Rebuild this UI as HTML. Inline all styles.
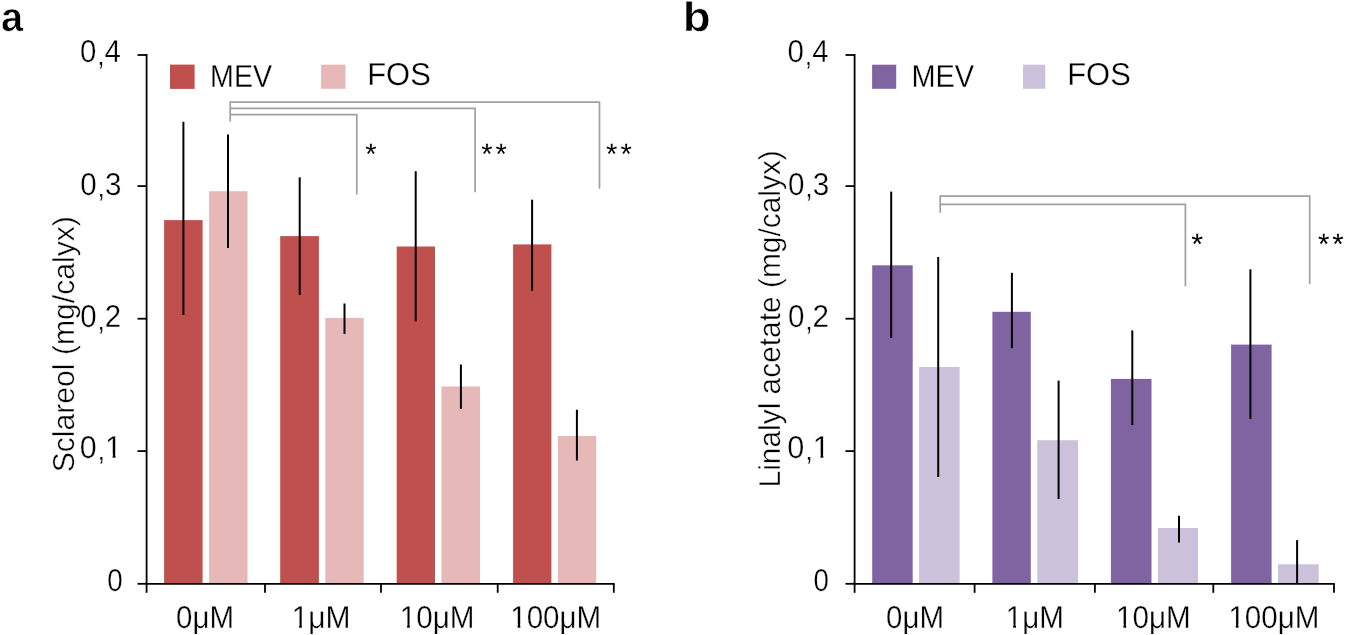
<!DOCTYPE html>
<html><head><meta charset="utf-8"><style>
html,body{margin:0;padding:0;background:#fff;}
body{width:1346px;height:635px;overflow:hidden;}
svg{display:block;will-change:transform;font-family:"Liberation Sans",sans-serif;font-kerning:none;text-rendering:geometricPrecision;}
text{font-family:"Liberation Sans",sans-serif;font-kerning:none;}
</style></head><body>
<svg width="1346" height="635" viewBox="0 0 1346 635">
<rect width="1346" height="635" fill="#fff"/>
<rect x="164.10" y="220.10" width="38.50" height="363.70" fill="#C0504D"/>
<rect x="209.10" y="191.20" width="38.40" height="392.60" fill="#E6B9B8"/>
<rect x="280.20" y="236.10" width="38.70" height="347.70" fill="#C0504D"/>
<rect x="325.30" y="317.90" width="38.40" height="265.90" fill="#E6B9B8"/>
<rect x="396.70" y="246.50" width="38.30" height="337.30" fill="#C0504D"/>
<rect x="441.40" y="386.50" width="38.60" height="197.30" fill="#E6B9B8"/>
<rect x="513.10" y="244.40" width="38.30" height="339.40" fill="#C0504D"/>
<rect x="557.90" y="436.00" width="38.30" height="147.80" fill="#E6B9B8"/>
<line x1="183.40" y1="121.80" x2="183.40" y2="315.00" stroke="#000" stroke-width="2"/>
<line x1="228.00" y1="134.40" x2="228.00" y2="248.00" stroke="#000" stroke-width="2"/>
<line x1="299.70" y1="177.30" x2="299.70" y2="295.00" stroke="#000" stroke-width="2"/>
<line x1="344.50" y1="303.50" x2="344.50" y2="334.00" stroke="#000" stroke-width="2"/>
<line x1="415.70" y1="171.20" x2="415.70" y2="321.30" stroke="#000" stroke-width="2"/>
<line x1="460.90" y1="364.50" x2="460.90" y2="408.80" stroke="#000" stroke-width="2"/>
<line x1="532.10" y1="199.70" x2="532.10" y2="290.80" stroke="#000" stroke-width="2"/>
<line x1="576.90" y1="409.70" x2="576.90" y2="460.50" stroke="#000" stroke-width="2"/>
<line x1="146.60" y1="54.10" x2="146.60" y2="584.70" stroke="#000" stroke-width="1.8"/>
<line x1="137.50" y1="55.00" x2="146.60" y2="55.00" stroke="#000" stroke-width="1.8"/>
<line x1="137.50" y1="186.10" x2="146.60" y2="186.10" stroke="#000" stroke-width="1.8"/>
<line x1="137.50" y1="318.70" x2="146.60" y2="318.70" stroke="#000" stroke-width="1.8"/>
<line x1="137.50" y1="451.10" x2="146.60" y2="451.10" stroke="#000" stroke-width="1.8"/>
<line x1="137.50" y1="583.80" x2="146.60" y2="583.80" stroke="#000" stroke-width="1.8"/>
<line x1="146.60" y1="583.80" x2="614.70" y2="583.80" stroke="#000" stroke-width="1.8"/>
<line x1="146.60" y1="583.80" x2="146.60" y2="592.80" stroke="#000" stroke-width="1.8"/>
<line x1="265.00" y1="583.80" x2="265.00" y2="592.80" stroke="#000" stroke-width="1.8"/>
<line x1="381.00" y1="583.80" x2="381.00" y2="592.80" stroke="#000" stroke-width="1.8"/>
<line x1="497.70" y1="583.80" x2="497.70" y2="592.80" stroke="#000" stroke-width="1.8"/>
<line x1="613.80" y1="583.80" x2="613.80" y2="592.80" stroke="#000" stroke-width="1.8"/>
<polyline points="230.2,121.5 230.2,102.1 599.5,102.1 599.5,188.8" fill="none" stroke="#A0A0A0" stroke-width="1.7"/>
<polyline points="230.2,108.3 475.1,108.3 475.1,192.2" fill="none" stroke="#A0A0A0" stroke-width="1.7"/>
<polyline points="230.2,114.7 356.8,114.7 356.8,194.6" fill="none" stroke="#A0A0A0" stroke-width="1.7"/>
<rect x="170.00" y="64.60" width="24.60" height="24.30" fill="#C0504D"/>
<rect x="321.10" y="64.70" width="24.40" height="24.10" fill="#E6B9B8"/>
<rect x="872.20" y="265.30" width="40.50" height="318.50" fill="#8064A2"/>
<rect x="919.10" y="367.00" width="40.50" height="216.80" fill="#CCC1DA"/>
<rect x="992.40" y="311.80" width="38.40" height="272.00" fill="#8064A2"/>
<rect x="1037.30" y="440.20" width="40.80" height="143.60" fill="#CCC1DA"/>
<rect x="1110.90" y="378.90" width="40.60" height="204.90" fill="#8064A2"/>
<rect x="1158.00" y="528.00" width="40.00" height="55.80" fill="#CCC1DA"/>
<rect x="1231.10" y="344.60" width="40.50" height="239.20" fill="#8064A2"/>
<rect x="1278.00" y="564.30" width="40.70" height="19.50" fill="#CCC1DA"/>
<line x1="891.20" y1="191.60" x2="891.20" y2="337.90" stroke="#000" stroke-width="2"/>
<line x1="938.20" y1="257.00" x2="938.20" y2="477.00" stroke="#000" stroke-width="2"/>
<line x1="1011.90" y1="272.80" x2="1011.90" y2="348.20" stroke="#000" stroke-width="2"/>
<line x1="1058.60" y1="380.60" x2="1058.60" y2="499.00" stroke="#000" stroke-width="2"/>
<line x1="1132.30" y1="330.40" x2="1132.30" y2="425.10" stroke="#000" stroke-width="2"/>
<line x1="1179.00" y1="515.80" x2="1179.00" y2="542.60" stroke="#000" stroke-width="2"/>
<line x1="1250.40" y1="269.30" x2="1250.40" y2="418.90" stroke="#000" stroke-width="2"/>
<line x1="1297.10" y1="540.10" x2="1297.10" y2="582.90" stroke="#000" stroke-width="2"/>
<line x1="854.60" y1="54.10" x2="854.60" y2="584.70" stroke="#000" stroke-width="1.8"/>
<line x1="845.50" y1="55.00" x2="854.60" y2="55.00" stroke="#000" stroke-width="1.8"/>
<line x1="845.50" y1="186.10" x2="854.60" y2="186.10" stroke="#000" stroke-width="1.8"/>
<line x1="845.50" y1="318.70" x2="854.60" y2="318.70" stroke="#000" stroke-width="1.8"/>
<line x1="845.50" y1="451.10" x2="854.60" y2="451.10" stroke="#000" stroke-width="1.8"/>
<line x1="845.50" y1="583.80" x2="854.60" y2="583.80" stroke="#000" stroke-width="1.8"/>
<line x1="854.60" y1="583.80" x2="1334.90" y2="583.80" stroke="#000" stroke-width="1.8"/>
<line x1="854.60" y1="583.80" x2="854.60" y2="592.80" stroke="#000" stroke-width="1.8"/>
<line x1="974.60" y1="583.80" x2="974.60" y2="592.80" stroke="#000" stroke-width="1.8"/>
<line x1="1094.90" y1="583.80" x2="1094.90" y2="592.80" stroke="#000" stroke-width="1.8"/>
<line x1="1213.30" y1="583.80" x2="1213.30" y2="592.80" stroke="#000" stroke-width="1.8"/>
<line x1="1334.00" y1="583.80" x2="1334.00" y2="592.80" stroke="#000" stroke-width="1.8"/>
<polyline points="940.2,212.7 940.2,196.2 1309.7,196.2 1309.7,284.0" fill="none" stroke="#A0A0A0" stroke-width="1.7"/>
<polyline points="940.2,204.3 1185.4,204.3 1185.4,286.3" fill="none" stroke="#A0A0A0" stroke-width="1.7"/>
<rect x="872.10" y="64.70" width="24.10" height="24.10" fill="#8064A2"/>
<rect x="1023.00" y="64.70" width="22.30" height="24.10" fill="#CCC1DA"/>
<g transform="translate(1.01,31.16) scale(0.96746,1)"><text font-size="41" font-weight="bold" fill="#000" stroke="#fff" stroke-width="0.65">a</text></g>
<g transform="translate(210.10,86.88) scale(0.90214,1)"><text font-size="31.7" fill="#000" stroke="#fff" stroke-width="0.3">MEV</text></g>
<g transform="translate(367.21,84.58) scale(0.97694,1)"><text font-size="31.7" fill="#000" stroke="#fff" stroke-width="0.3">FOS</text></g>
<g transform="translate(80.00,62.18) scale(0.92601,1)"><text font-size="31.7" fill="#000" stroke="#fff" stroke-width="0.3">0<tspan dx="0.929" dy="2.322" font-size="28.530">,</tspan><tspan dx="-0.048" dy="-2.322">4</tspan></text></g>
<g transform="translate(80.30,194.67) scale(0.93156,1)"><text font-size="31.7" fill="#000" stroke="#fff" stroke-width="0.3">0<tspan dx="0.929" dy="2.322" font-size="28.530">,</tspan><tspan dx="-0.048" dy="-2.322">3</tspan></text></g>
<g transform="translate(80.30,327.27) scale(0.92883,1)"><text font-size="31.7" fill="#000" stroke="#fff" stroke-width="0.3">0<tspan dx="0.929" dy="2.322" font-size="28.530">,</tspan><tspan dx="-0.048" dy="-2.322">2</tspan></text></g>
<g transform="translate(79.66,457.88) scale(0.96186,1)"><text font-size="31.7" fill="#000" stroke="#fff" stroke-width="0.3">0<tspan dx="0.929" dy="2.322" font-size="28.530">,</tspan><tspan dx="-0.048" dy="-2.322">1</tspan></text><rect x="27.37" y="-3.56" width="6.95" height="4.18" fill="#fff"/><rect x="37.30" y="-3.56" width="6.16" height="4.18" fill="#fff"/></g>
<g transform="translate(107.26,590.58) scale(0.87769,1)"><text font-size="31.7" fill="#000" stroke="#fff" stroke-width="0.3">0</text></g>
<g transform="translate(176.10,627.58) scale(0.92880,1)"><text font-size="31.7" fill="#000" stroke="#fff" stroke-width="0.3">0μM</text></g>
<g transform="translate(291.66,627.58) scale(0.94614,1)"><text font-size="31.7" fill="#000" stroke="#fff" stroke-width="0.3">1μM</text><rect x="0.93" y="-3.56" width="6.95" height="4.18" fill="#fff"/><rect x="10.87" y="-3.56" width="6.16" height="4.18" fill="#fff"/></g>
<g transform="translate(399.70,627.58) scale(0.93563,1)"><text font-size="31.7" fill="#000" stroke="#fff" stroke-width="0.3">10μM</text><rect x="0.93" y="-3.56" width="6.95" height="4.18" fill="#fff"/><rect x="10.87" y="-3.56" width="6.16" height="4.18" fill="#fff"/></g>
<g transform="translate(510.21,627.58) scale(0.93242,1)"><text font-size="31.7" fill="#000" stroke="#fff" stroke-width="0.3">100μM</text><rect x="0.93" y="-3.56" width="6.95" height="4.18" fill="#fff"/><rect x="10.87" y="-3.56" width="6.16" height="4.18" fill="#fff"/></g>
<text transform="translate(73.90,472.37) rotate(-90) scale(0.99468,1)" font-size="30.3" fill="#000" stroke="#fff" stroke-width="0.42">Sclareol (mg/calyx)</text>
<g transform="translate(682.85,31.16) scale(1.11237,1)"><text font-size="41.3" font-weight="bold" fill="#000" stroke="#fff" stroke-width="0.65">b</text></g>
<g transform="translate(911.38,86.98) scale(0.91276,1)"><text font-size="31.7" fill="#000" stroke="#fff" stroke-width="0.3">MEV</text></g>
<g transform="translate(1067.21,84.58) scale(0.97694,1)"><text font-size="31.7" fill="#000" stroke="#fff" stroke-width="0.3">FOS</text></g>
<g transform="translate(787.60,62.18) scale(0.93078,1)"><text font-size="31.7" fill="#000" stroke="#fff" stroke-width="0.3">0<tspan dx="0.929" dy="2.322" font-size="28.530">,</tspan><tspan dx="-0.048" dy="-2.322">4</tspan></text></g>
<g transform="translate(787.89,194.67) scale(0.93638,1)"><text font-size="31.7" fill="#000" stroke="#fff" stroke-width="0.3">0<tspan dx="0.929" dy="2.322" font-size="28.530">,</tspan><tspan dx="-0.048" dy="-2.322">3</tspan></text></g>
<g transform="translate(787.89,327.27) scale(0.93368,1)"><text font-size="31.7" fill="#000" stroke="#fff" stroke-width="0.3">0<tspan dx="0.929" dy="2.322" font-size="28.530">,</tspan><tspan dx="-0.048" dy="-2.322">2</tspan></text></g>
<g transform="translate(787.25,457.88) scale(0.96742,1)"><text font-size="31.7" fill="#000" stroke="#fff" stroke-width="0.3">0<tspan dx="0.929" dy="2.322" font-size="28.530">,</tspan><tspan dx="-0.048" dy="-2.322">1</tspan></text><rect x="27.37" y="-3.56" width="6.95" height="4.18" fill="#fff"/><rect x="37.30" y="-3.56" width="6.16" height="4.18" fill="#fff"/></g>
<g transform="translate(813.57,590.58) scale(0.87109,1)"><text font-size="31.7" fill="#000" stroke="#fff" stroke-width="0.3">0</text></g>
<g transform="translate(886.10,627.58) scale(0.92880,1)"><text font-size="31.7" fill="#000" stroke="#fff" stroke-width="0.3">0μM</text></g>
<g transform="translate(1005.80,627.58) scale(0.93378,1)"><text font-size="31.7" fill="#000" stroke="#fff" stroke-width="0.3">1μM</text><rect x="0.93" y="-3.56" width="6.95" height="4.18" fill="#fff"/><rect x="10.87" y="-3.56" width="6.16" height="4.18" fill="#fff"/></g>
<g transform="translate(1116.00,627.58) scale(0.93563,1)"><text font-size="31.7" fill="#000" stroke="#fff" stroke-width="0.3">10μM</text><rect x="0.93" y="-3.56" width="6.95" height="4.18" fill="#fff"/><rect x="10.87" y="-3.56" width="6.16" height="4.18" fill="#fff"/></g>
<g transform="translate(1228.41,627.58) scale(0.93242,1)"><text font-size="31.7" fill="#000" stroke="#fff" stroke-width="0.3">100μM</text><rect x="0.93" y="-3.56" width="6.95" height="4.18" fill="#fff"/><rect x="10.87" y="-3.56" width="6.16" height="4.18" fill="#fff"/></g>
<text transform="translate(779.80,487.45) rotate(-90) scale(0.98670,1)" font-size="30.3" fill="#000" stroke="#fff" stroke-width="0.42">Linalyl acetate (mg/calyx)</text>
<text transform="translate(365.13,164.38) scale(0.98224,1)" font-size="29.623" fill="#000" stroke="#000" stroke-width="0">*</text>
<text transform="translate(481.33,164.38) scale(0.98224,1)" font-size="29.623" fill="#000" stroke="#000" stroke-width="0">*<tspan dx="2.929">*</tspan></text>
<text transform="translate(605.93,164.38) scale(0.98224,1)" font-size="29.623" fill="#000" stroke="#000" stroke-width="0">*<tspan dx="3.234">*</tspan></text>
<text transform="translate(1191.31,254.18) scale(1.03946,1)" font-size="29.339" fill="#000" stroke="#000" stroke-width="0">*</text>
<text transform="translate(1317.93,254.18) scale(1.00131,1)" font-size="29.339" fill="#000" stroke="#000" stroke-width="0">*<tspan dx="2.864">*</tspan></text>
</svg>
</body></html>
